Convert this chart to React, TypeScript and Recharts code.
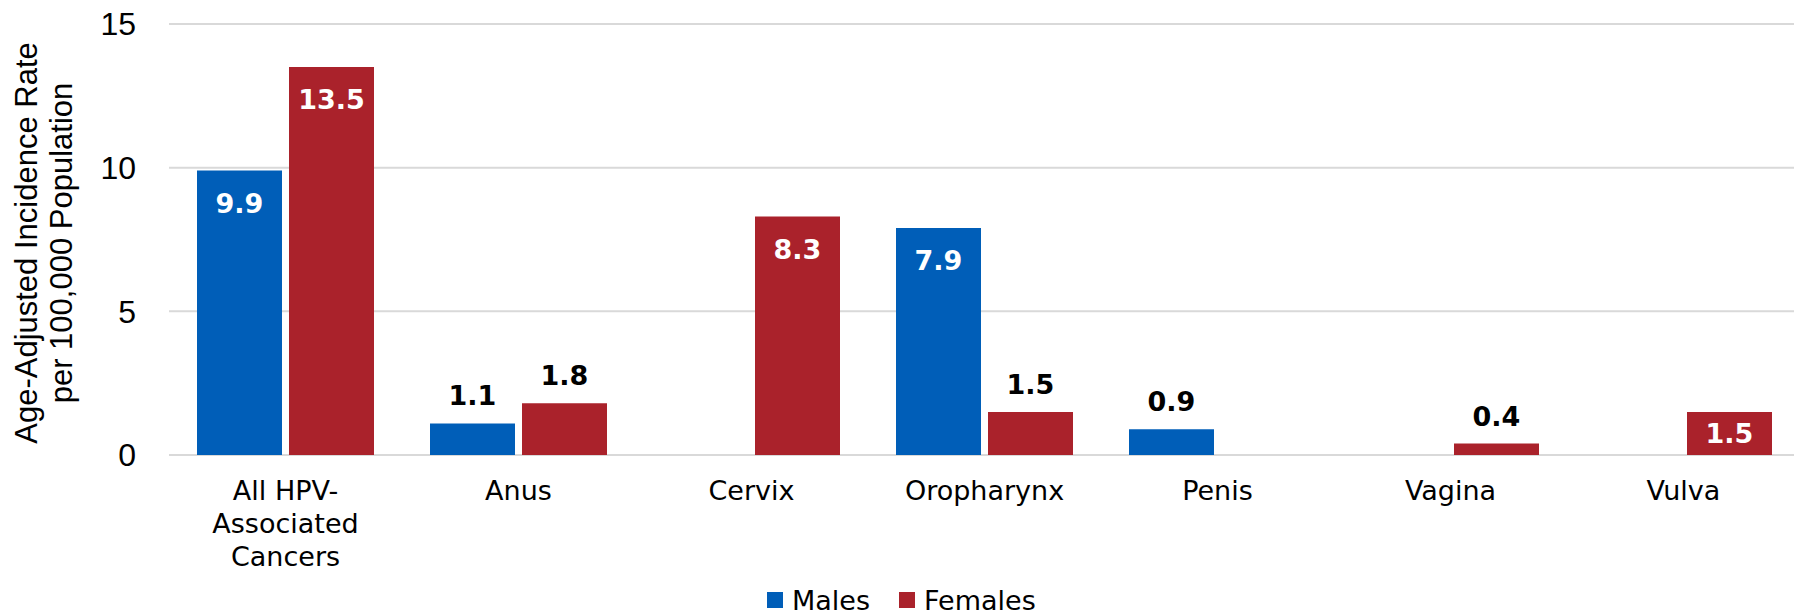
import React from "react";
import { BarChart, Bar, XAxis, YAxis, CartesianGrid, Legend, LabelList } from "recharts";

const categories = [
  "All HPV-Associated Cancers",
  "Anus",
  "Cervix",
  "Oropharynx",
  "Penis",
  "Vagina",
  "Vulva",
];
const males: (number | null)[] = [9.9, 1.1, null, 7.9, 0.9, null, null];
const females: (number | null)[] = [13.5, 1.8, 8.3, 1.5, null, 0.4, 1.5];
const yTicks = [0, 5, 10, 15];
const seriesNames = ["Males", "Females"];
const titleLines = ["Age-Adjusted Incidence Rate", "per 100,000 Population"];

// label placement style per bar (not data)
const malesLabelPos = ["inside", "top", null, "inside", "top", null, null];
const femalesLabelPos = ["inside", "top", "inside", "top", null, "top", "center"];

const BLUE = "#005EB8";
const RED = "#AA222B";
const GRID = "#D9D9D9";
const SANS = "'DejaVu Sans', Verdana, sans-serif";
const ARIAL = "'Liberation Sans', Arial, sans-serif";

const PLOT_LEFT = 169;
const CHART_W = 1800;
const BAND = (CHART_W - PLOT_LEFT) / categories.length;

const data = categories.map((c, i) => ({ name: c, males: males[i], females: females[i] }));

function wrapLabel(label: string, maxChars: number): string[] {
  const tokens: string[] = [];
  label.split(/\s+/).forEach((w) => {
    const parts = w.split(/(?<=-)/);
    parts.forEach((p) => tokens.push(p));
  });
  const lines: string[] = [];
  let cur = "";
  tokens.forEach((t) => {
    if (!cur) cur = t;
    else {
      const joiner = cur.endsWith("-") ? "" : " ";
      if ((cur + joiner + t).length <= maxChars) cur = cur + joiner + t;
      else {
        lines.push(cur);
        cur = t;
      }
    }
  });
  if (cur) lines.push(cur);
  return lines;
}

const CategoryTick = (props: any) => {
  const { x, payload } = props;
  const lines = wrapLabel(String(payload.value), 10);
  return (
    <text x={x} y={455} textAnchor="middle" fontFamily={SANS} fontSize={27} fill="#000">
      {lines.map((l, i) => (
        <tspan key={i} x={x} dy={i === 0 ? 45 : 33}>
          {l}
        </tspan>
      ))}
    </text>
  );
};

const makeLabel = (positions: (string | null)[]) => (props: any) => {
  const { value } = props;
  const vb = props.viewBox || props;
  const { x, y, width, height } = vb;
  const cat = Math.floor((x + width / 2 - PLOT_LEFT) / BAND);
  const pos = positions[cat];
  if (value == null || !pos) return null;
  let ty = y - 18;
  let fill = "#000";
  if (pos === "inside") {
    ty = y + 42;
    fill = "#fff";
  } else if (pos === "center") {
    ty = y + height / 2 + 10;
    fill = "#fff";
  }
  return (
    <text
      x={x + width / 2}
      y={ty}
      textAnchor="middle"
      fontFamily={SANS}
      fontWeight="bold"
      fontSize={27}
      fill={fill}
    >
      {Number(value).toFixed(1)}
    </text>
  );
};

const AxisTitle = () => (
  <g>
    <text
      x={37}
      y={243}
      transform="rotate(-90 37 243)"
      textAnchor="middle"
      fontFamily={ARIAL}
      fontSize={31}
      fill="#000"
    >
      {titleLines[0]}
    </text>
    <text
      x={72}
      y={243}
      transform="rotate(-90 72 243)"
      textAnchor="middle"
      fontFamily={ARIAL}
      fontSize={31}
      fill="#000"
    >
      {titleLines[1]}
    </text>
  </g>
);

const LegendContent = () => {
  const colors = [BLUE, RED];
  return (
    <div
      style={{
        height: 36,
        paddingTop: 14,
        boxSizing: "border-box",
        display: "flex",
        alignItems: "center",
        fontFamily: SANS,
        fontSize: 27,
        lineHeight: "27px",
        color: "#000",
        whiteSpace: "nowrap",
      }}
    >
      {seriesNames.map((n, i) => (
        <div key={n} style={{ display: "flex", alignItems: "center", marginLeft: i === 0 ? 0 : 29 }}>
          <div style={{ width: 16, height: 16, background: colors[i], marginRight: 9 }} />
          <span>{n}</span>
        </div>
      ))}
    </div>
  );
};

export default function App() {
  return (
    <div
      style={{
        position: "fixed",
        left: 0,
        top: 0,
        width: 1794,
        height: 611,
        overflow: "hidden",
        background: "#fff",
      }}
    >
      <BarChart
        width={CHART_W}
        height={611}
        data={data}
        margin={{ top: 24, right: 0, bottom: 0, left: 0 }}
        barGap={7}
        barCategoryGap={28}
      >
        <CartesianGrid vertical={false} stroke={GRID} strokeWidth={2} />
        <XAxis
          dataKey="name"
          axisLine={false}
          tickLine={false}
          tickSize={0}
          tickMargin={0}
          height={120}
          interval={0}
          tick={<CategoryTick />}
        />
        <YAxis
          width={PLOT_LEFT}
          domain={[0, 15]}
          ticks={yTicks}
          axisLine={false}
          tickLine={false}
          tickSize={0}
          tickMargin={33}
          tick={{ fontFamily: ARIAL, fontSize: 32, fill: "#000" }}
          label={{ content: () => <AxisTitle /> }}
        />
        <Legend
          verticalAlign="bottom"
          content={() => <LegendContent />}
          wrapperStyle={{ left: 767, bottom: 0, width: "auto" }}
        />
        <Bar dataKey="males" name="Males" fill={BLUE} barSize={85} isAnimationActive={false}>
          <LabelList dataKey="males" content={makeLabel(malesLabelPos)} />
        </Bar>
        <Bar dataKey="females" name="Females" fill={RED} barSize={85} isAnimationActive={false}>
          <LabelList dataKey="females" content={makeLabel(femalesLabelPos)} />
        </Bar>
      </BarChart>
    </div>
  );
}
